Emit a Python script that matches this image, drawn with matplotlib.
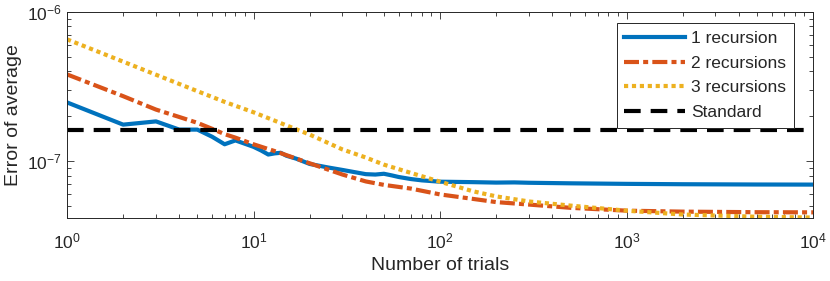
import numpy as np
import matplotlib
matplotlib.use("Agg")
import matplotlib.pyplot as plt
from matplotlib.ticker import LogLocator, NullFormatter

plt.rcParams['font.family'] = ['Liberation Sans', 'DejaVu Sans']
plt.rcParams['axes.unicode_minus'] = False

# values
n_one = [1, 2, 3, 4, 5, 6, 7, 8, 9, 10, 11, 12, 13, 14, 15, 17, 20, 25, 30, 35,
         40, 45, 50, 55, 60, 70, 80, 100, 150, 200, 250, 300, 500, 1000, 2000, 5000, 10000]
err_one = [2.48e-7, 1.76e-7, 1.85e-7, 1.63e-7, 1.63e-7, 1.46e-7, 1.30e-7, 1.38e-7, 1.31e-7,
           1.25e-7, 1.18e-7, 1.11e-7, 1.13e-7, 1.14e-7, 1.09e-7, 1.04e-7, 9.6e-8, 9.1e-8,
           8.75e-8, 8.45e-8, 8.2e-8, 8.15e-8, 8.25e-8, 8.05e-8, 7.85e-8, 7.6e-8, 7.45e-8,
           7.3e-8, 7.25e-8, 7.2e-8, 7.22e-8, 7.18e-8, 7.12e-8, 7.06e-8, 7.02e-8, 6.99e-8, 6.98e-8]

n_two = [1, 2, 3, 4, 5, 6, 7, 8, 10, 13, 15, 20, 30, 40, 50, 70, 100, 150, 200, 300,
         500, 1000, 2000, 5000, 10000]
err_two = [3.82e-7, 2.73e-7, 2.22e-7, 1.98e-7, 1.81e-7, 1.65e-7, 1.52e-7, 1.44e-7, 1.30e-7,
           1.17e-7, 1.10e-7, 9.7e-8, 8.15e-8, 7.33e-8, 6.95e-8, 6.56e-8, 6.0e-8, 5.6e-8,
           5.33e-8, 5.13e-8, 4.88e-8, 4.67e-8, 4.6e-8, 4.56e-8, 4.55e-8]

n_three = [1, 2, 3, 5, 7, 10, 13, 15, 20, 30, 40, 50, 70, 100, 150, 200, 300, 500,
           1000, 2000, 5000, 10000]
err_three = [6.56e-7, 4.65e-7, 3.8e-7, 2.95e-7, 2.5e-7, 2.13e-7, 1.87e-7, 1.74e-7, 1.51e-7,
             1.2e-7, 1.06e-7, 9.5e-8, 8.35e-8, 7.3e-8, 6.3e-8, 5.82e-8, 5.38e-8, 5.05e-8,
             4.67e-8, 4.4e-8, 4.25e-8, 4.2e-8]

standard_err = 1.61e-7
labels = ["1 recursion", "2 recursions", "3 recursions", "Standard"]

fg = '#262626'
fig = plt.figure(figsize=(8.3, 2.81), dpi=100)
ax = fig.add_axes([67/830, 1 - 218/281, (813 - 67)/830, (218 - 12)/281])

ax.plot(n_one, err_one, color='#0072BD', lw=3, label=labels[0])
ax.plot(n_two, err_two, color='#D95319', lw=3, ls=(0, (3.6, 1, 1.2, 1)), label=labels[1])
ax.plot(n_three, err_three, color='#EDB120', lw=3, ls=(0, (1, 0.9)), label=labels[2])
ax.plot([1, 10000], [standard_err, standard_err], color='black', lw=3,
        ls=(0, (4, 2.4)), label=labels[3])

ax.set_xscale('log')
ax.set_yscale('log')
ax.set_xlim(1, 1e4)
ax.set_ylim(4.17e-8, 1e-6)
ax.xaxis.set_major_locator(LogLocator(base=10, numticks=10))
ax.xaxis.set_minor_locator(LogLocator(base=10, subs=np.arange(2, 10), numticks=20))
ax.yaxis.set_major_locator(LogLocator(base=10, numticks=10))
ax.yaxis.set_minor_locator(LogLocator(base=10, subs=np.arange(2, 10), numticks=20))
ax.xaxis.set_minor_formatter(NullFormatter())
ax.yaxis.set_minor_formatter(NullFormatter())

ax.tick_params(which='both', direction='in', top=True, right=True, color=fg,
               labelcolor=fg, width=0.6, labelsize=12.5)
ax.tick_params(which='major', length=5)
ax.tick_params(which='minor', length=3)
ax.tick_params(axis='x', pad=10)
for s in ax.spines.values():
    s.set_color(fg)
    s.set_linewidth(0.7)

ax.set_xlabel("Number of trials", fontsize=14, color=fg, labelpad=4)
ax.set_ylabel("Error of average", fontsize=14, color=fg, labelpad=4)

leg = ax.legend(loc='upper right', bbox_to_anchor=(0.9745, 0.947), fontsize=12.5,
                handlelength=3.5, fancybox=False, framealpha=1, edgecolor=fg,
                borderpad=0.45, labelspacing=0.55, handletextpad=0.35, borderaxespad=0)
leg.get_frame().set_linewidth(0.7)
for t in leg.get_texts():
    t.set_color(fg)

fig.savefig("out.png", dpi=100)
